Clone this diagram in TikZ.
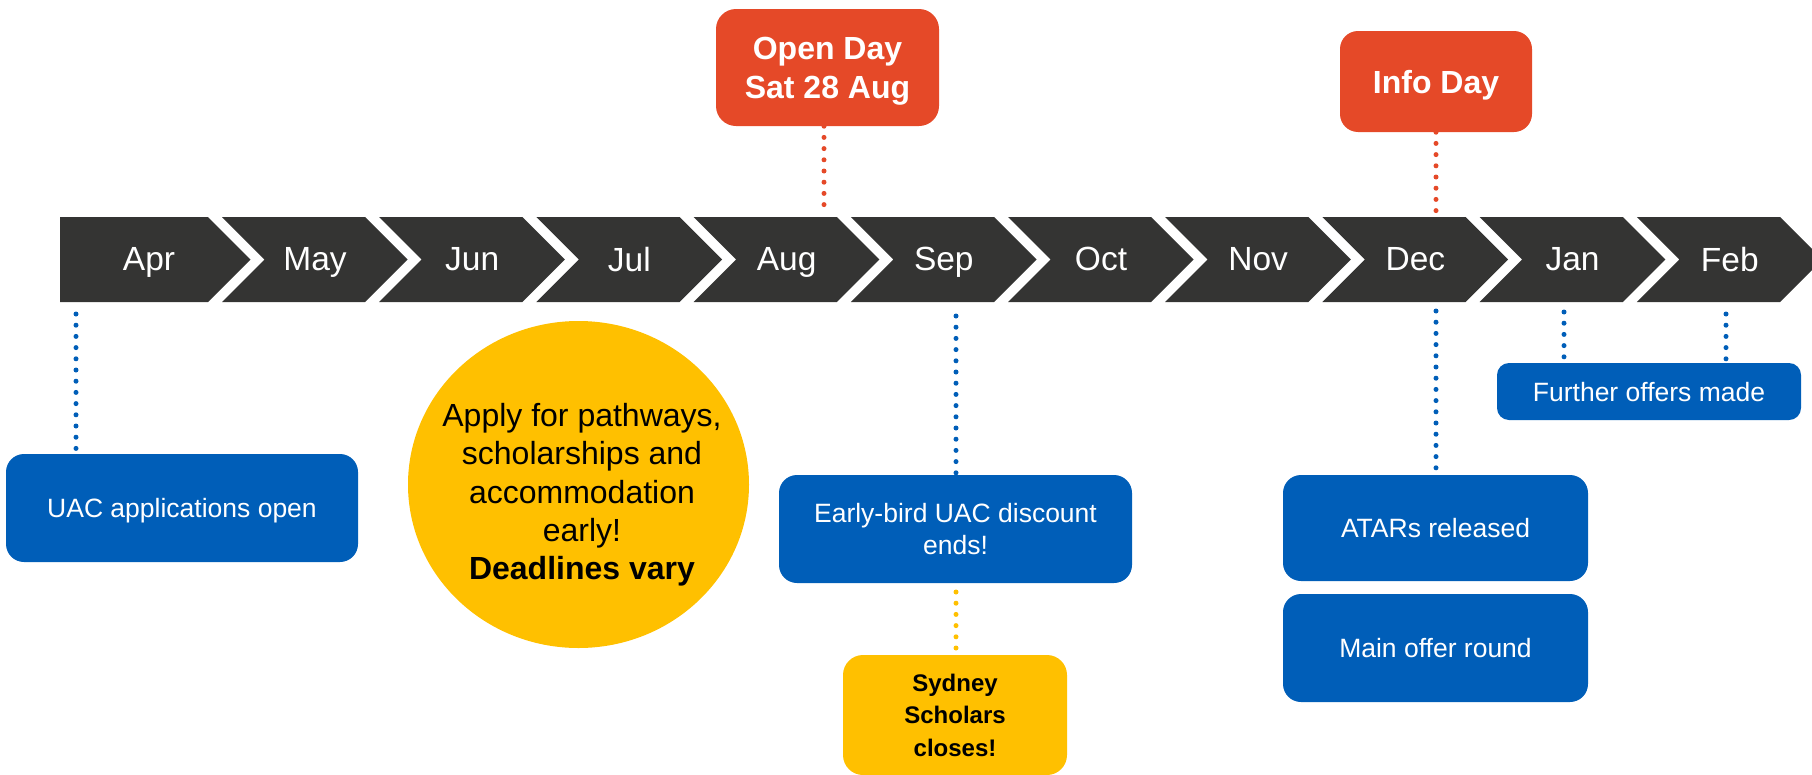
\documentclass[tikz,border=0pt]{standalone}
\usepackage{fontspec}
\setmainfont{Liberation Sans}
\usetikzlibrary{shapes.geometric}
\definecolor{band}{RGB}{52,52,51}
\definecolor{ured}{RGB}{229,73,40}
\definecolor{ublue}{RGB}{0,94,184}
\definecolor{uyel}{RGB}{255,192,0}
\begin{document}
\begin{tikzpicture}[x=1pt,y=-1pt,
  monthlbl/.style={text=white, font=\fontsize{33.5}{40}\selectfont, text depth=0pt, inner sep=0pt},
  boxbase/.style={rectangle, rounded corners=18pt, inner sep=0pt, align=center, text depth=0pt},
  bluebox/.style={boxbase, fill=ublue, text=white, font=\fontsize{26.5}{32}\selectfont},
  redbox/.style={boxbase, fill=ured, text=white, font=\fontsize{32}{39}\selectfont\bfseries},
  yelbox/.style={boxbase, fill=uyel, text=black, font=\fontsize{24}{32.5}\selectfont\bfseries},
  dots/.style={line width=5pt, line cap=round, dash pattern=on 0pt off 11.2pt},
]
\useasboundingbox (0,0) rectangle (1812,774);
\clip (0,0) rectangle (1812,774);

% chevron band
\fill[band] (60,217) -- (208,217) -- (250.5,259.5) -- (208,302) -- (60,302) -- cycle;
\foreach \k in {1,...,10}{
  \pgfmathsetmacro\R{208+157.2*\k}
  \pgfmathsetmacro\N{\R-157.2+14}
  \fill[band] (\N,217) -- (\R,217) -- (\R+42.5,259.5) -- (\R,302) -- (\N,302) -- (\N+42.5,259.5) -- cycle;
}

% month labels
\node[monthlbl] (m0) at (149,259) {Apr};
\foreach \m [count=\i] in {May,Jun,Jul,Aug,Sep,Oct,Nov,Dec,Jan,Feb}{
  \node[monthlbl] (m\i) at (157.8+157.2*\i,259) {\m};
}

% boxes
\node[redbox, rounded corners=20pt, text depth=-4pt, minimum width=223pt, minimum height=117pt] (open) at (827.5,67.5) {Open Day\\Sat 28 Aug};
\node[redbox, minimum width=192pt, minimum height=101pt] (info) at (1436,81.5) {Info Day};

\node[bluebox, minimum width=352pt, minimum height=108pt] (uac) at (182,508) {UAC applications open};

\node[ellipse, fill=uyel, inner sep=0pt, minimum width=341pt, minimum height=327pt] (circ) at (578.5,484.5) {};
\node[align=center, font=\fontsize{32}{38.3}\selectfont, text depth=0pt, inner sep=0pt] (circtxt) at (582,491.5)
  {Apply for pathways,\\scholarships and\\accommodation\\early!\\\textbf{Deadlines vary}};

\node[bluebox, minimum width=353pt, minimum height=108pt] (early) at (955.5,529) {Early-bird UAC discount\\ends!};
\node[yelbox, rounded corners=20pt, minimum width=224pt, minimum height=120pt] (syd) at (955,715) {Sydney\\Scholars\\closes!};

\node[bluebox, minimum width=305pt, minimum height=106pt] (atar) at (1435.5,528) {ATARs released};
\node[bluebox, minimum width=305pt, minimum height=108pt] (main) at (1435.5,648) {Main offer round};
\node[bluebox, rounded corners=12pt, minimum width=304pt, minimum height=57pt] (further) at (1649,391.5) {Further offers made};

% dotted connectors
\coordinate (opend) at (824,206);
\draw[dots, ured] (opend |- open.south) -- (opend);
\coordinate (infod) at (1436,212);
\draw[dots, ured] (info.south) -- (infod);

\coordinate (aprd) at (76,314);
\draw[dots, ublue, shorten >=4pt] (aprd) -- (aprd |- uac.north);
\coordinate (sepd) at (956,316);
\draw[dots, ublue, shorten >=1pt] (sepd) -- (sepd |- early.north);
\coordinate (decd) at (1436,311);
\draw[dots, ublue, shorten >=4pt] (decd) -- (decd |- atar.north);
\coordinate (jand) at (1564,312);
\draw[dots, ublue, shorten >=4pt] (jand) -- (jand |- further.north);
\coordinate (febd) at (1726,314);
\draw[dots, ublue, shorten >=3pt] (febd) -- (febd |- further.north);
\coordinate (yd) at (956,592);
\draw[dots, uyel, shorten >=4pt] (yd) -- (yd |- syd.north);
\end{tikzpicture}
\end{document}
